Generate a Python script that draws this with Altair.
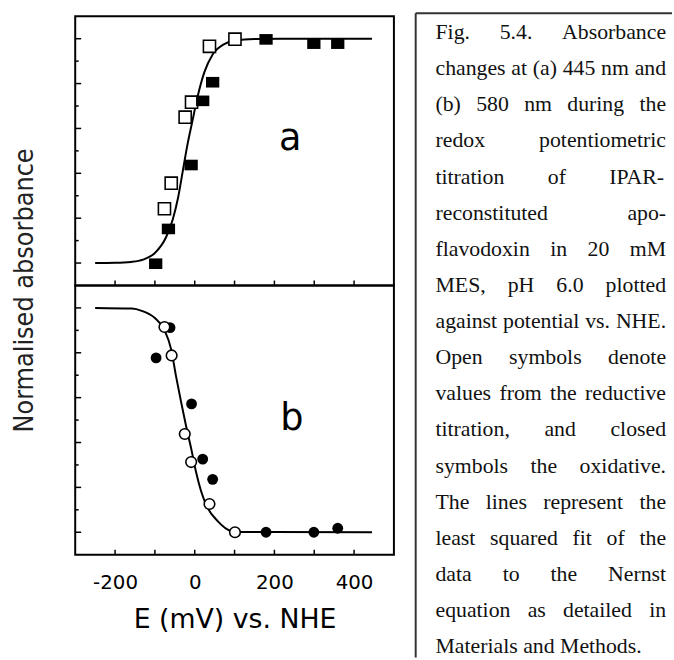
import altair as alt
import pandas as pd

# ---------------- data ----------------
# panel (a): 445 nm
A_OPEN_E = [-76, -59, -24, -8, 37, 101]
A_OPEN_V = [0.242, 0.356, 0.650, 0.717, 0.966, 0.998]
A_CLOSED_E = [-98, -66, -9, 20, 45, 179, 299, 359]
A_CLOSED_V = [-0.003, 0.152, 0.437, 0.723, 0.806, 0.997, 0.978, 0.978]
A_FIT_E = [-250, -200, -160, -130, -100, -72, -55, -42, -30, -18, -5, 7, 24, 45, 73, 100, 150, 445]
A_FIT_V = [0.0, 0.001, 0.005, 0.015, 0.045, 0.115, 0.195, 0.29, 0.41, 0.53, 0.64, 0.74, 0.85, 0.93, 0.975, 0.992, 0.999, 1.0]

# panel (b): 580 nm
B_OPEN_E = [-76, -58, -25, -9, 37, 101]
B_OPEN_V = [0.915, 0.788, 0.438, 0.313, 0.126, 0.0]
B_CLOSED_E = [-97, -62, -8, 20, 45, 179, 299, 359]
B_CLOSED_V = [0.777, 0.912, 0.572, 0.326, 0.236, 0.0, 0.0, 0.018]
B_FIT_E = [-250, -158, -133, -100, -76, -59, -47, -34, -22, -9, 3, 16, 32, 57, 90, 120, 445]
B_FIT_V = [1.0, 0.997, 0.987, 0.955, 0.902, 0.814, 0.696, 0.579, 0.476, 0.374, 0.271, 0.183, 0.11, 0.051, 0.007, 0.001, 0.0]

PANEL_LABELS = ["a", "b"]
LABEL_E = [240, 244]
LABEL_V = [0.504, 0.455]

X_TICKS = [-200, -100, 0, 100, 200, 300, 400]
X_LABELS = [-200, 0, 200, 400]
Y_MAJOR = [0.0, 0.2, 0.4, 0.6, 0.8, 1.0]
Y_MINOR = [0.1, 0.3, 0.5, 0.7, 0.9]

X_TITLE = "E (mV) vs. NHE"
Y_TITLE = "Normalised absorbance"

CAPTION_LINES = [
    "Fig. 5.4. Absorbance",
    "changes at (a) 445 nm and",
    "(b) 580 nm during the",
    "redox potentiometric",
    "titration of IPAR-",
    "reconstituted apo-",
    "flavodoxin in 20 mM",
    "MES, pH 6.0 plotted",
    "against potential vs. NHE.",
    "Open symbols denote",
    "values from the reductive",
    "titration, and closed",
    "symbols the oxidative.",
    "The lines represent the",
    "least squared fit of the",
    "data to the Nernst",
    "equation as detailed in",
    "Materials and Methods.",
]

# ---------------- layout constants ----------------
W, H = 322, 272
X_DOMAIN = [-300, 500]
Y_DOMAIN = [-0.1, 1.1]
SANS = "DejaVu Sans"

xs = alt.Scale(domain=X_DOMAIN, nice=False, zero=False)
ys = alt.Scale(domain=Y_DOMAIN, nice=False, zero=False)

RECT_SHAPE = "M-1,-0.8L1,-0.8L1,0.8L-1,0.8Z"


def one_row():
    return pd.DataFrame({"d": [0]})


def panel(fit_E, fit_V, open_E, open_V, closed_E, closed_V, idx, square, show_axis):
    if show_axis:
        ax = alt.Axis(values=X_LABELS, ticks=False, tickSize=0, domain=False, grid=False,
                      labelExpr="'' + datum.value",
                      labelFont=SANS, labelFontSize=20, labelColor="black",
                      labelPadding=18, labelFlush=False,
                      title=X_TITLE, titleFont=SANS, titleFontSize=27,
                      titleFontWeight="normal", titleColor="black", titlePadding=15)
    else:
        ax = None

    def X(field):
        return alt.X(f"{field}:Q", scale=xs, axis=ax)

    def Y(field):
        return alt.Y(f"{field}:Q", scale=ys, axis=None)

    fit = pd.DataFrame({"E": fit_E, "V": fit_V})
    op = pd.DataFrame({"E": open_E, "V": open_V})
    cl = pd.DataFrame({"E": closed_E, "V": closed_V})
    xt = pd.DataFrame({"E": X_TICKS})
    ymaj = pd.DataFrame({"V": Y_MAJOR})
    ymin = pd.DataFrame({"V": Y_MINOR})
    lab = pd.DataFrame({"E": [LABEL_E[idx]], "V": [LABEL_V[idx]], "t": [PANEL_LABELS[idx]]})

    xtick = alt.Chart(xt).mark_rule(color="black", strokeWidth=1.5).encode(
        x=X("E"), y=alt.value(H), y2=alt.value(H - 5))
    ytick_major = alt.Chart(ymaj).mark_rule(color="black", strokeWidth=1.5).encode(
        y=Y("V"), x=alt.value(0), x2=alt.value(6))
    ytick_minor = alt.Chart(ymin).mark_rule(color="black", strokeWidth=1.5).encode(
        y=Y("V"), x=alt.value(0), x2=alt.value(3.5))
    line = alt.Chart(fit).mark_line(color="black", strokeWidth=2, interpolate="monotone").encode(
        x=X("E"), y=Y("V"), order=alt.Order("E:Q"))
    if square:
        m_open = alt.Chart(op).mark_point(shape="square", filled=True, fill="white",
                                          stroke="black", strokeWidth=1.6, size=150, opacity=1).encode(
            x=X("E"), y=Y("V"))
        m_closed = alt.Chart(cl).mark_point(shape=RECT_SHAPE, filled=True, color="black",
                                            size=180, opacity=1).encode(x=X("E"), y=Y("V"))
        marks = [m_open, m_closed]
    else:
        m_open = alt.Chart(op).mark_point(shape="circle", filled=True, fill="white",
                                          stroke="black", strokeWidth=1.6, size=115, opacity=1).encode(
            x=X("E"), y=Y("V"))
        m_closed = alt.Chart(cl).mark_point(shape="circle", filled=True, color="black",
                                            size=120, opacity=1).encode(x=X("E"), y=Y("V"))
        marks = [m_closed, m_open]
    label = alt.Chart(lab).mark_text(font=SANS, fontSize=37, color="black", align="center",
                                     baseline="alphabetic").encode(x=X("E"), y=Y("V"), text="t:N")
    frame = alt.Chart(one_row()).mark_rect(fillOpacity=0, stroke="black", strokeWidth=2).encode(
        x=alt.value(0), x2=alt.value(W), y=alt.value(0), y2=alt.value(H))
    return alt.layer(xtick, ytick_major, ytick_minor, line, *marks, label, frame).properties(
        width=W, height=H)


pa = panel(A_FIT_E, A_FIT_V, A_OPEN_E, A_OPEN_V, A_CLOSED_E, A_CLOSED_V, 0, True, False)
pb = panel(B_FIT_E, B_FIT_V, B_OPEN_E, B_OPEN_V, B_CLOSED_E, B_CLOSED_V, 1, False, True)

spacer = alt.Chart(one_row()).mark_text(text=" ", fontSize=4).encode(
    x=alt.value(W / 2), y=alt.value(6)).properties(width=W, height=12)

left = alt.vconcat(spacer, pa, pb, spacing=0, bounds="flush")

ylabel = alt.Chart(one_row()).mark_text(
    text=Y_TITLE, angle=270, font="Liberation Sans Narrow, DejaVu Sans Condensed, Open Sans, sans-serif",
    fontSize=27, color="#222222", align="center", baseline="middle").encode(
    x=alt.value(24), y=alt.value(289)).properties(width=54, height=556)

# ---------------- caption (justified, Times-metric widths) ----------------
TIMES = {" ": 250, "(": 333, ")": 333, ",": 250, "-": 333, ".": 250,
         "A": 722, "B": 667, "C": 667, "D": 722, "E": 611, "F": 556, "G": 722, "H": 722,
         "I": 333, "J": 389, "K": 722, "L": 611, "M": 889, "N": 722, "O": 722, "P": 556,
         "Q": 722, "R": 667, "S": 556, "T": 611, "U": 722, "V": 722, "W": 944, "X": 722,
         "Y": 722, "Z": 611,
         "a": 444, "b": 500, "c": 444, "d": 500, "e": 444, "f": 333, "g": 500, "h": 500,
         "i": 278, "j": 278, "k": 500, "l": 278, "m": 778, "n": 500, "o": 500, "p": 500,
         "q": 500, "r": 333, "s": 389, "t": 278, "u": 500, "v": 500, "w": 722, "x": 500,
         "y": 500, "z": 444}
CAP_FS = 22
CAP_X0, CAP_W = 20, 233
CAP_Y0, CAP_DY = 35, 36.5


def tw(s):
    return sum(TIMES.get(ch, 500) for ch in s) * CAP_FS / 1000.0


rows = []
for i, line in enumerate(CAPTION_LINES):
    words = line.split(" ")
    y = CAP_Y0 + CAP_DY * i
    if i == len(CAPTION_LINES) - 1 or len(words) == 1:
        x = CAP_X0
        for w in words:
            rows.append({"w": w, "px": x, "py": y})
            x += tw(w) + tw(" ")
    else:
        widths = [tw(w) for w in words]
        gap = (CAP_W - sum(widths)) / (len(words) - 1)
        x = CAP_X0
        for w, wd in zip(words, widths):
            rows.append({"w": w, "px": x, "py": y})
            x += wd + gap
cap_df = pd.DataFrame(rows)

cap_text = alt.Chart(cap_df).mark_text(
    align="left", baseline="alphabetic", font="Liberation Serif", fontSize=CAP_FS, color="#111111").encode(
    x=alt.X("px:Q", scale=None, axis=None), y=alt.Y("py:Q", scale=None, axis=None), text="w:N")
box_left = alt.Chart(one_row()).mark_rule(color="#333333", strokeWidth=2).encode(
    x=alt.value(0), y=alt.value(9), y2=alt.value(660))
box_top = alt.Chart(one_row()).mark_rule(color="#333333", strokeWidth=2).encode(
    x=alt.value(0), x2=alt.value(259), y=alt.value(9))
caption = alt.layer(box_left, box_top, cap_text).properties(width=259, height=660)

chart = alt.hconcat(ylabel, left, caption, spacing=18).properties(
    padding=0, background="white").configure_view(stroke="transparent")

chart.save("out.html", embed_options={"renderer": "svg", "actions": False})
